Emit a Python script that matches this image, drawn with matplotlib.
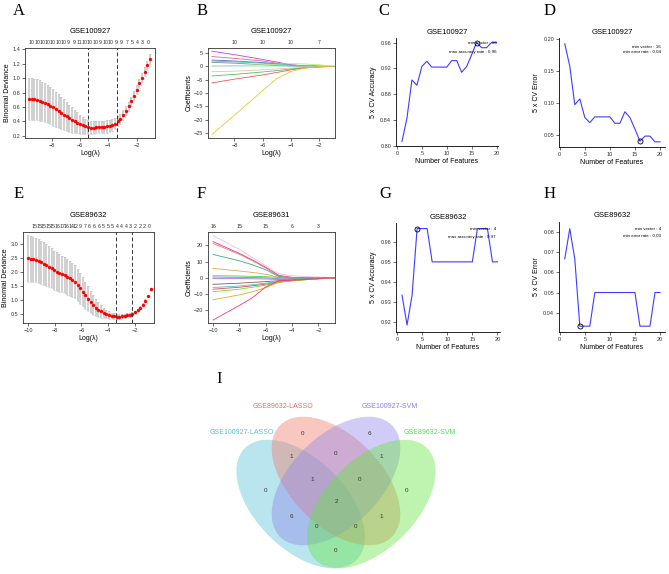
import numpy as np
import matplotlib
matplotlib.use("Agg")
import matplotlib.pyplot as plt
from matplotlib.patches import Ellipse

plt.rcParams['font.family'] = ['Liberation Sans', 'DejaVu Sans']

# ---------------- data ----------------
# A: GSE100927 lasso cv
devA_mean = [0.71, 0.71, 0.705, 0.70, 0.69, 0.675, 0.66, 0.64, 0.62, 0.595,
             0.57, 0.545, 0.52, 0.495, 0.47, 0.445, 0.42, 0.40, 0.38, 0.36,
             0.345, 0.33, 0.32, 0.315, 0.315, 0.318, 0.32, 0.322, 0.325, 0.33,
             0.34, 0.35, 0.37, 0.40, 0.44, 0.49, 0.55, 0.61, 0.68, 0.76,
             0.84, 0.93, 1.01, 1.09, 1.18, 1.27]
devA_se = [0.29, 0.29, 0.29, 0.285, 0.28, 0.275, 0.27, 0.265, 0.26, 0.255,
           0.245, 0.235, 0.225, 0.215, 0.205, 0.19, 0.175, 0.16, 0.145, 0.135,
           0.12, 0.105, 0.095, 0.09, 0.09, 0.085, 0.085, 0.085, 0.085, 0.085,
           0.08, 0.08, 0.075, 0.07, 0.07, 0.065, 0.065, 0.06, 0.06, 0.06,
           0.06, 0.06, 0.06, 0.065, 0.065, 0.07]
lamA_range = (-9.6, -1.05)
lamA_lines = [-5.45, -3.36]
topA = ["10", "10", "10", "10", "10", "10", "10", "9", "9", "11", "10", "10",
        "10", "9", "10", "10", "9", "9", "7", "5", "4", "3", "0"]

# E: GSE89632 lasso cv
devE_mean = [2.48, 2.47, 2.45, 2.42, 2.38, 2.34, 2.29, 2.24, 2.19, 2.13,
             2.06, 2.01, 1.97, 1.93, 1.88, 1.83, 1.78, 1.72, 1.65, 1.55,
             1.43, 1.30, 1.17, 1.05, 0.93, 0.83, 0.74, 0.66, 0.60, 0.54,
             0.50, 0.47, 0.44, 0.43, 0.42, 0.42, 0.43, 0.44, 0.46, 0.49,
             0.52, 0.57, 0.64, 0.73, 0.84, 0.98, 1.15, 1.38]
devE_se = [0.82, 0.81, 0.80, 0.79, 0.78, 0.77, 0.76, 0.745, 0.73, 0.715,
           0.70, 0.685, 0.67, 0.655, 0.64, 0.63, 0.615, 0.60, 0.585, 0.57,
           0.55, 0.52, 0.48, 0.44, 0.40, 0.35, 0.30, 0.26, 0.22, 0.18,
           0.15, 0.13, 0.11, 0.10, 0.09, 0.085, 0.08, 0.075, 0.07, 0.07,
           0.065, 0.06, 0.06, 0.055, 0.055, 0.05, 0.05, 0.05]
lamE_range = (-10.0, -0.82)
lamE_lines = [-3.38, -2.25]
topE = ["15", "15", "15", "15", "15", "16", "17", "16", "14", "12", "9", "7", "6",
        "6", "6", "5", "5", "5", "4", "4", "4", "3", "2", "2", "2", "0"]

# B: GSE100927 coefficient paths
knotsB = [-9.6, -8, -6, -5, -4, -3, -2, -0.95]
pathsB = [
    [5.7, 4.4, 2.6, 1.6, 0.6, 0.2, 0.05, 0.0],
    [3.7, 3.0, 2.0, 1.2, 0.5, 0.2, 0.05, 0.0],
    [2.4, 2.0, 1.4, 0.9, 0.4, 0.1, 0.0, 0.0],
    [2.0, 1.7, 1.2, 0.8, 0.5, 0.2, 0.05, 0.0],
    [1.5, 1.2, 0.6, 0.3, 0.1, 0.0, 0.0, 0.0],
    [0.1, 0.1, 0.1, 0.1, 0.1, 0.05, 0.0, 0.0],
    [0.2, 0.3, 0.6, 0.8, 1.0, 0.9, 0.6, 0.0],
    [-2.0, -1.8, -1.3, -1.0, -0.6, -0.3, -0.1, 0.0],
    [-3.6, -3.0, -2.1, -1.6, -1.0, -0.5, -0.2, 0.0],
    [-6.2, -4.8, -3.2, -2.3, -1.3, -0.6, -0.2, 0.0],
    [-25.6, -18.3, -9.1, -4.6, -1.9, -0.6, -0.15, 0.0],
]
colorsB = ["#c03ff0", "#f0608c", "#4a6ee0", "#35c4c4", "#8a8a6a", "#a8dcf0",
           "#a6f07e", "#e6c896", "#4cc46a", "#f05a50", "#e8c830"]
topB_pos = [-8, -6, -4, -2]
topB = ["10", "10", "10", "7"]

# F: GSE89631 coefficient paths
knotsF = [-10, -8, -7, -6, -5, -4, -3, -2, -0.8]
pathsF = [
    [26, 17.5, 12.5, 7.5, 2.5, 1.2, 0.8, 0.5, 0],
    [22.3, 15, 11, 6.5, 1.5, 0.3, 0.1, 0, 0],
    [21.2, 14.5, 10.5, 6, 1.0, 0, -0.2, -0.1, 0],
    [14.4, 10.5, 8, 5, 0.8, -0.5, -0.5, -0.3, 0],
    [5.8, 4.2, 3.3, 2.2, 0.3, -0.5, -0.5, -0.3, 0],
    [1.3, 1.1, 0.9, 0.7, 0.2, -0.2, -0.3, -0.2, 0],
    [0.5, 0.3, 0.2, 0.0, -0.5, -0.8, -0.6, -0.3, 0],
    [-0.5, -0.5, -0.6, -0.7, -1.0, -1.2, -0.8, -0.4, 0],
    [-4.0, -3.3, -2.8, -2.3, -1.8, -1.5, -1.0, -0.5, 0],
    [-6.0, -5.0, -4.2, -3.3, -2.2, -1.6, -1.0, -0.5, 0],
    [-7.0, -5.8, -4.9, -3.9, -2.6, -1.7, -1.1, -0.5, 0],
    [-8.5, -7.0, -5.8, -4.5, -2.8, -1.8, -1.2, -0.6, 0],
    [-13.5, -10.5, -8.6, -6.0, -2.8, -1.8, -1.2, -0.6, 0],
    [-26, -17, -12.2, -5.6, -1.8, -1.5, -1.0, -0.5, 0],
]
colorsF = ["#e6c0e6", "#f028c8", "#f08048", "#38b088", "#d8a848", "#48d848",
           "#6a8cf0", "#a868e0", "#80604a", "#48c4d4", "#e04868", "#70e028",
           "#e0b020", "#f03880"]
topF_pos = [-10, -8, -6, -4, -2]
topF = ["16", "15", "15", "6", "3"]

# C/D/G/H: svm-rfe
features = list(range(1, 21))
acc_100927 = [0.807, 0.843, 0.902, 0.894, 0.923, 0.931, 0.922, 0.922, 0.922, 0.922,
              0.932, 0.932, 0.914, 0.923, 0.941, 0.960, 0.952, 0.952, 0.960, 0.960]
err_100927 = [0.192, 0.157, 0.097, 0.106, 0.077, 0.069, 0.078, 0.078, 0.078, 0.078,
              0.068, 0.068, 0.086, 0.077, 0.059, 0.040, 0.048, 0.048, 0.039, 0.039]
acc_89632 = [0.9333, 0.9183, 0.9333, 0.9667, 0.9667, 0.9667, 0.95, 0.95, 0.95, 0.95,
             0.95, 0.95, 0.95, 0.95, 0.95, 0.9667, 0.9667, 0.9667, 0.95, 0.95]
err_89632 = [0.0667, 0.0817, 0.0667, 0.0333, 0.0333, 0.0333, 0.05, 0.05, 0.05, 0.05,
             0.05, 0.05, 0.05, 0.05, 0.05, 0.0333, 0.0333, 0.0333, 0.05, 0.05]

# I: venn
venn_sets = ["GSE100927-LASSO", "GSE89632-LASSO", "GSE100927-SVM", "GSE89632-SVM"]
venn_colors = ["#56c1d8", "#f07a68", "#9187eb", "#65e541"]
venn_label_colors = ["#4fc4db", "#ee6a5a", "#8e7cf0", "#4ce04c"]
# region key: which sets (c=cyan, r=red, p=purple, g=green)
venn_keys = ["r", "p", "rp", "cr", "pg", "c", "g", "crp", "rpg", "crpg",
             "cp", "rg", "cpg", "crg", "cg"]
venn_counts = [0, 6, 0, 1, 1, 0, 0, 1, 0, 2, 6, 1, 0, 0, 0]

# ---------------- figure ----------------
W, H = 669, 574
fig = plt.figure(figsize=(W / 100, H / 100), dpi=100)


def px_axes(l, t, r, b):
    return fig.add_axes([l / W, 1 - b / H, (r - l) / W, (b - t) / H])


def style_ticks(ax):
    ax.tick_params(labelsize=4, length=2, width=0.5, pad=1.5, colors='#333333')
    for s in ax.spines.values():
        s.set_linewidth(0.6)
        s.set_color('#333333')


def lasso_cv(ax, mean, se, rng, vlines, xlim, ylim, yticks, yfmt, top, toprng, title):
    x = np.linspace(rng[0], rng[1], len(mean))
    ax.errorbar(x, mean, yerr=se, fmt='none', ecolor='#c4c4c4', elinewidth=1.1,
                capsize=1.0, capthick=0.5)
    ax.plot(x, mean, 'o', color='red', ms=2.4, mec='none')
    for v in vlines:
        ax.axvline(v, color='#333333', ls=(0, (4, 2.5)), lw=0.7)
    ax.set_xlim(xlim)
    ax.set_ylim(ylim)
    ax.set_yticks(yticks)
    ax.set_yticklabels([yfmt % t for t in yticks])
    ax.set_xticks([-10, -8, -6, -4, -2] if xlim[0] < -10 else [-8, -6, -4, -2])
    style_ticks(ax)
    ax.set_xlabel("Log(λ)", fontsize=5, labelpad=1.5)
    ax.set_ylabel("Binomial Deviance", fontsize=5, labelpad=1)
    pos = np.linspace(toprng[0], toprng[1], len(top))
    for p, lab in zip(pos, top):
        ax.text(p, 1.03, lab, transform=ax.get_xaxis_transform(), ha='center',
                va='bottom', fontsize=3.8, color='#333333')
    ax.text(0.5, 1.18, title, transform=ax.transAxes, ha='center', va='center',
            fontsize=5.5)


def coef_paths(ax, knots, paths, colors, xlim, ylim, yticks, xticks, toppos, top, title):
    for p, c in zip(paths, colors):
        ax.plot(knots, p, color=c, lw=0.6)
    ax.set_xlim(xlim)
    ax.set_ylim(ylim)
    ax.set_yticks(yticks)
    ax.set_xticks(xticks)
    style_ticks(ax)
    ax.set_xlabel("Log(λ)", fontsize=5, labelpad=1.5)
    ax.set_ylabel("Coefficients", fontsize=5, labelpad=1)
    for p, lab in zip(toppos, top):
        ax.text(p, 1.03, lab, transform=ax.get_xaxis_transform(), ha='center',
                va='bottom', fontsize=3.8, color='#333333')
    ax.text(0.5, 1.18, title, transform=ax.transAxes, ha='center', va='center',
            fontsize=5.5)


def svm_panel(ax, vals, best, title, xlim, ylim, yticks, yfmt, ylabel, notes, note_xy):
    ax.plot(features, vals, color='#3d3dff', lw=0.8)
    ax.plot(features[best - 1], vals[best - 1], 'o', mfc='none', mec='black',
            ms=3.6, mew=0.6)
    ax.set_xlim(xlim)
    ax.set_ylim(ylim)
    ax.set_xticks([0, 5, 10, 15, 20])
    ax.set_yticks(yticks)
    ax.set_yticklabels([yfmt % t for t in yticks])
    ax.spines['top'].set_visible(False)
    ax.spines['right'].set_visible(False)
    style_ticks(ax)
    ax.spines['left'].set_color('black')
    ax.spines['bottom'].set_color('black')
    ax.set_xlabel("Number of Features", fontsize=5, labelpad=1.5)
    ax.set_ylabel(ylabel, fontsize=5, labelpad=2)
    ax.text(0.5, 1.055, title, transform=ax.transAxes, ha='center', va='center',
            fontsize=5.5)
    ax.text(note_xy[0], note_xy[1], notes[0], transform=ax.transAxes, ha='right',
            va='center', fontsize=3.2)
    ax.text(note_xy[0], note_xy[2], notes[1], transform=ax.transAxes, ha='right',
            va='center', fontsize=3.2)


axA = px_axes(25, 48, 155, 138)
lasso_cv(axA, devA_mean, devA_se, lamA_range, lamA_lines, (-9.88, -0.7), (0.17, 1.42),
         [0.2, 0.4, 0.6, 0.8, 1.0, 1.2, 1.4], "%.1f", topA, (-9.4, -1.2), "GSE100927")

axE = px_axes(23, 232, 154, 323)
lasso_cv(axE, devE_mean, devE_se, lamE_range, lamE_lines, (-10.38, -0.57), (0.19, 3.42),
         [0.5, 1.0, 1.5, 2.0, 2.5, 3.0], "%.1f", topE, (-9.5, -0.95), "GSE89632")

axB = px_axes(208, 48, 335, 138)
coef_paths(axB, knotsB, pathsB, colorsB, (-9.88, -0.87), (-26.9, 6.9),
           [5, 0, -5, -10, -15, -20, -25], [-8, -6, -4, -2], topB_pos, topB, "GSE100927")

axF = px_axes(208, 232, 335, 323)
coef_paths(axF, knotsF, pathsF, colorsF, (-10.38, -0.74), (-27.8, 28.2),
           [20, 10, 0, -10, -20], [-10, -8, -6, -4, -2], topF_pos, topF, "GSE89631")

axC = px_axes(396, 38, 498, 146)
svm_panel(axC, acc_100927, 16, "GSE100927", (-0.2, 20.3), (0.80, 0.967),
          [0.80, 0.84, 0.88, 0.92, 0.96], "%.2f", "5 x CV Accuracy",
          ["min vector : 16", "max accuracy rate : 0.96"], (0.99, 0.95, 0.87))

axD = px_axes(559, 38, 665, 147)
svm_panel(axD, err_100927, 16, "GSE100927", (-0.15, 21.0), (0.031, 0.201),
          [0.05, 0.10, 0.15, 0.20], "%.2f", "5 x CV Error",
          ["min vector : 16", "min error rate : 0.04"], (0.96, 0.92, 0.87))

axG = px_axes(396, 223, 500, 332)
svm_panel(axG, acc_89632, 4, "GSE89632", (-0.2, 20.5), (0.9148, 0.9695),
          [0.92, 0.93, 0.94, 0.95, 0.96], "%.2f", "5 x CV Accuracy",
          ["min vector : 4", "max accuracy rate : 0.97"], (0.96, 0.945, 0.87))

axH = px_axes(559, 222, 665, 332)
svm_panel(axH, err_89632, 4, "GSE89632", (-0.15, 21.0), (0.0304, 0.085),
          [0.04, 0.05, 0.06, 0.07, 0.08], "%.2f", "5 x CV Error",
          ["min vector : 4", "min error rate : 0.03"], (0.96, 0.936, 0.87))

# venn in pixel coordinates
axI = px_axes(150, 390, 520, 574)
axI.set_xlim(150, 520)
axI.set_ylim(574, 390)
axI.axis('off')
centers = [(300.7, 504), (336, 481), (336, 481), (371.3, 504)]
angles = [45, 45, -45, -45]
for (cx, cy), ang, col in zip(centers, angles, venn_colors):
    axI.add_patch(Ellipse((cx, cy), 158, 90, angle=ang, facecolor=col, alpha=0.42,
                          edgecolor='none'))
label_pos = [(242, 433), (283, 406), (390, 406), (430, 433)]
for (lx, ly), name, col in zip(label_pos, venn_sets, venn_label_colors):
    axI.text(lx, ly, name, ha='center', va='center', fontsize=5, color=col)
region_pos = {"r": (302.7, 433.3), "p": (369, 433.3), "rp": (336, 453.3),
              "cr": (291.3, 456.7), "pg": (381, 456.7), "c": (265, 490.7),
              "g": (406.7, 490.7), "crp": (312.7, 479.3), "rpg": (359.3, 479.3),
              "crpg": (336, 501.7), "cp": (291.7, 516.7), "rg": (381, 516.7),
              "cpg": (316.7, 526), "crg": (355.7, 526), "cg": (336, 551)}
for k, n in zip(venn_keys, venn_counts):
    x, y = region_pos[k]
    axI.text(x, y, str(n), ha='center', va='center', fontsize=4.5, color='#333333')

# panel letters
letters = {"A": (19, 11), "B": (202, 11), "C": (384, 11), "D": (550, 11),
           "E": (19, 194), "F": (201, 194), "G": (385, 194), "H": (550, 194),
           "I": (219, 379)}
for k, (x, y) in letters.items():
    fig.text(x / W, 1 - y / H, k, ha='center', va='center', fontsize=12,
             family=['Liberation Serif', 'DejaVu Serif'])

fig.savefig("out.png", dpi=100)
